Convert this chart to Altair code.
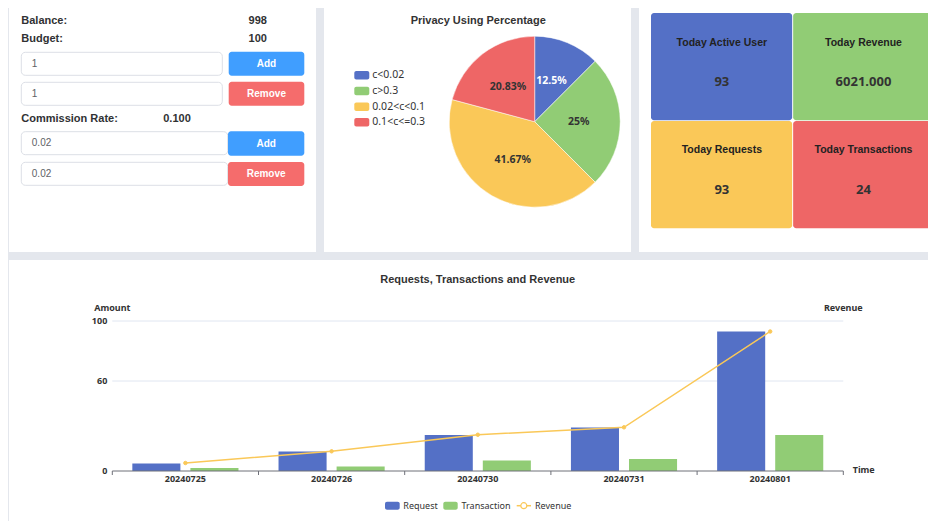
import altair as alt
import pandas as pd

# ---------------- data ----------------
info_labels = ["Balance:", "Budget:", "Commission Rate:"]
info_values = ["998", "100", "0.100"]
input_values = ["1", "1", "0.02", "0.02"]
button_labels = ["Add", "Remove", "Add", "Remove"]

pie_title = "Privacy Using Percentage"
pie_categories = ["c<0.02", "c>0.3", "0.02<c<0.1", "0.1<c<=0.3"]
pie_counts = [3, 6, 10, 5]
pie_labels = ["12.5%", "25%", "41.67%", "20.83%"]

card_titles = ["Today Active User", "Today Revenue", "Today Requests", "Today Transactions"]
card_values = ["93", "6021.000", "93", "24"]

bar_title = "Requests, Transactions and Revenue"
dates = ["20240725", "20240726", "20240730", "20240731", "20240801"]
requests = [5, 13, 24, 29, 93]
transactions = [2, 3, 7, 8, 24]
revenue = [345, 850, 1565, 1885, 6021]
amount_ticks = [0, 60, 100]
series_names = ["Request", "Transaction", "Revenue"]
axis_titles = ["Amount", "Revenue", "Time"]

# ---------------- styles ----------------
BLUE, GREEN, YELLOW, RED = "#5470c6", "#91cc75", "#fac858", "#ee6666"
BTN_BLUE, BTN_RED = "#409eff", "#f56c6c"
BG = "#e4e7ed"
AXIS = "#6e7079"
GRID = "#e0e6f1"
FONT_UI = "Liberation Sans"
FONT_CH = "Noto Sans"
W, H = 920, 513


def one(**cols):
    return pd.DataFrame({k: [v] for k, v in cols.items()})


def box(x1, x2, y1, y2, fill, stroke=None, radius=0):
    kw = dict(fill=fill, cornerRadius=radius)
    if stroke is not None:
        kw.update(stroke=stroke, strokeWidth=1)
    else:
        kw.update(strokeWidth=0)
    return alt.Chart(one(k=0)).mark_rect(**kw).encode(
        x=alt.value(x1), x2=alt.value(x2), y=alt.value(y1), y2=alt.value(y2))


def txt(t, x, y, size, weight="normal", color="#303133", align="left", font=FONT_UI):
    return alt.Chart(one(t=t)).mark_text(
        fontSize=size, fontWeight=weight, color=color, align=align,
        baseline="middle", font=font).encode(
        text="t:N", x=alt.value(x), y=alt.value(y))


layers = []

# panels
layers += [
    box(1, 308, 0, 244, "white"),
    box(316, 623, 0, 244, "white"),
    box(631, W, 0, 244, "white"),
    box(1, W, 252, H, "white"),
]

# ---------------- panel 1: form ----------------
info_pos = [(12.7, 249.7), (31.3, 249.7), (111.0, 169.0)]
for i, (y, vx) in enumerate(info_pos):
    layers.append(txt(info_labels[i], 13.3, y, 11, "bold"))
    layers.append(txt(info_values[i], vx, y, 11, "bold", align="center"))

inputs_geom = [(13.3, 214.3, 44.3, 67.3), (13.3, 214.3, 74.3, 97.3),
               (13.3, 219.7, 123.7, 146.7), (13.3, 219.7, 154.3, 177.3)]
button_geom = [(220.7, 296.3, 43.7, 67.7), (220.7, 296.3, 73.7, 97.7),
               (220.0, 296.3, 123.3, 147.7), (220.0, 296.3, 154.0, 178.0)]
button_fill = [BTN_BLUE, BTN_RED, BTN_BLUE, BTN_RED]
for i in range(4):
    x1, x2, y1, y2 = inputs_geom[i]
    layers.append(box(x1, x2, y1, y2, "white", stroke="#dcdfe6", radius=4))
    layers.append(txt(input_values[i], x1 + 10.5, (y1 + y2) / 2, 10, color="#606266"))
    bx1, bx2, by1, by2 = button_geom[i]
    layers.append(box(bx1, bx2, by1, by2, button_fill[i], radius=3))
    layers.append(txt(button_labels[i], (bx1 + bx2) / 2, (by1 + by2) / 2, 10, "bold",
                      color="white", align="center"))

# ---------------- panel 2: pie ----------------
layers.append(txt(pie_title, 470.2, 12.7, 11, "bold", color="#333333", align="center"))
pie_df = pd.DataFrame({"cat": pie_categories, "count": pie_counts,
                       "label": pie_labels, "idx": list(range(len(pie_counts)))})
pie_color = alt.Scale(domain=pie_categories, range=[BLUE, GREEN, YELLOW, RED])
cx, cy = 526.7, 113.7
layers.append(alt.Chart(pie_df).mark_arc(radius=85.5, stroke="white", strokeWidth=0.5).encode(
    theta=alt.Theta("count:Q", stack=True),
    order=alt.Order("idx:Q"),
    color=alt.Color("cat:N", scale=pie_color, legend=None),
    x=alt.value(cx), y=alt.value(cy)))
layers.append(alt.Chart(pie_df).mark_text(radius=44, fontSize=10.5, fontWeight="bold",
                                          font=FONT_CH, baseline="middle").encode(
    theta=alt.Theta("count:Q", stack=True),
    order=alt.Order("idx:Q"),
    text="label:N",
    color=alt.Color("cat:N", scale=alt.Scale(domain=pie_categories,
                                             range=["#ffffff", "#333333", "#333333", "#333333"]),
                    legend=None),
    x=alt.value(cx), y=alt.value(cy)))
step = 15.67
leg_y = alt.Scale(domain=pie_categories, range=[67.3 - step / 2, 114.3 + step / 2],
                  paddingInner=1 - 8.5 / step, paddingOuter=(1 - 8.5 / step) / 2)
layers.append(alt.Chart(pie_df).mark_rect(cornerRadius=2).encode(
    x=alt.value(346.3), x2=alt.value(361.3),
    y=alt.Y("cat:N", scale=leg_y, axis=None),
    color=alt.Color("cat:N", scale=pie_color, legend=None)))
layers.append(alt.Chart(pie_df).mark_text(align="left", baseline="middle", fontSize=10.5,
                                          font=FONT_CH, color="#333333").encode(
    x=alt.value(364.3),
    y=alt.Y("cat:N", scale=leg_y, axis=None),
    text="cat:N"))

# ---------------- panel 3: KPI cards ----------------
card_df = pd.DataFrame({"title": card_titles, "value": card_values,
                        "col": [0, 1, 0, 1], "row": [0, 0, 1, 1]})
cxs = alt.Scale(domain=[0, 1], range=[643, 926.3], paddingInner=0.007, paddingOuter=0)
cys = alt.Scale(domain=[0, 1], range=[5, 220.3], paddingInner=0.007, paddingOuter=0)
layers.append(alt.Chart(card_df).mark_rect(cornerRadius=3).encode(
    x=alt.X("col:O", scale=cxs, axis=None),
    y=alt.Y("row:O", scale=cys, axis=None),
    color=alt.Color("title:N", scale=alt.Scale(domain=card_titles, range=[BLUE, GREEN, YELLOW, RED]),
                    legend=None)))
layers.append(alt.Chart(card_df).mark_text(dy=-24.3, fontSize=10.5, fontWeight="bold",
                                           font=FONT_UI, color="#222222", baseline="middle").encode(
    x=alt.X("col:O", scale=cxs, axis=None),
    y=alt.Y("row:O", scale=cys, axis=None),
    text="title:N"))
layers.append(alt.Chart(card_df).mark_text(dy=15.5, fontSize=13, fontWeight="bold",
                                           font=FONT_CH, color="#333333", baseline="middle").encode(
    x=alt.X("col:O", scale=cxs, axis=None),
    y=alt.Y("row:O", scale=cys, axis=None),
    text="value:N"))

# ---------------- panel 4: bars + line ----------------
X0, X1, Y0, Y100 = 104.3, 835.3, 463.0, 313.0
xb = alt.Scale(domain=dates, range=[X0, X1], paddingInner=0, paddingOuter=0)
yb = alt.Scale(domain=[0, 100], range=[Y0, Y100], nice=False, zero=True)
yr = alt.Scale(domain=[0, 6474], range=[Y0, Y100], nice=False, zero=True)

layers.append(txt(bar_title, 469.7, 271.5, 11, "bold", color="#333333", align="center"))

grid_df = pd.DataFrame({"v": amount_ticks[1:]})
layers.append(alt.Chart(grid_df).mark_rule(color=GRID, strokeWidth=1).encode(
    y=alt.Y("v:Q", scale=yb, axis=None), x=alt.value(X0), x2=alt.value(X1)))

bars_df = pd.DataFrame({
    "date": dates * 2,
    "series": [series_names[0]] * len(dates) + [series_names[1]] * len(dates),
    "value": requests + transactions,
})
layers.append(alt.Chart(bars_df).mark_bar().encode(
    x=alt.X("date:N", scale=xb, axis=None),
    xOffset=alt.XOffset("series:N", scale=alt.Scale(domain=series_names[:2],
                                                    paddingInner=0.1724, paddingOuter=0.345)),
    y=alt.Y("value:Q", scale=yb, axis=None),
    color=alt.Color("series:N", scale=alt.Scale(domain=series_names[:2], range=[BLUE, GREEN]),
                    legend=None)))

# axis line + ticks
layers.append(alt.Chart(pd.DataFrame({"v": [amount_ticks[0]]})).mark_rule(color=AXIS, strokeWidth=1).encode(
    y=alt.Y("v:Q", scale=yb, axis=None), x=alt.value(X0), x2=alt.value(X1)))
tick_df = pd.DataFrame({"date": dates})
layers.append(alt.Chart(tick_df).mark_rule(color=AXIS).encode(
    x=alt.X("date:N", scale=xb, axis=None, bandPosition=0),
    y=alt.value(Y0), y2=alt.value(Y0 + 4)))
layers.append(alt.Chart(one(date=dates[-1])).mark_rule(color=AXIS).encode(
    x=alt.X("date:N", scale=xb, axis=None, bandPosition=1),
    y=alt.value(Y0), y2=alt.value(Y0 + 4)))

rev_df = pd.DataFrame({"date": dates, "rev": revenue})
layers.append(alt.Chart(rev_df).mark_line(color=YELLOW, strokeWidth=1.5).encode(
    x=alt.X("date:N", scale=xb, axis=None),
    y=alt.Y("rev:Q", scale=yr, axis=None)))
layers.append(alt.Chart(rev_df).mark_point(shape="circle", size=12, filled=True, fill=YELLOW,
                                           stroke=YELLOW, strokeWidth=1, opacity=1).encode(
    x=alt.X("date:N", scale=xb, axis=None),
    y=alt.Y("rev:Q", scale=yr, axis=None)))

# tick labels
layers.append(alt.Chart(tick_df).mark_text(fontSize=9, fontWeight="bold", font=FONT_CH,
                                           color="#333333", baseline="middle").encode(
    x=alt.X("date:N", scale=xb, axis=None),
    y=alt.value(471.3), text="date:N"))
layers.append(alt.Chart(pd.DataFrame({"v": amount_ticks})).mark_text(
    fontSize=9, fontWeight="bold", font=FONT_CH, color="#333333", align="right",
    baseline="middle").encode(
    y=alt.Y("v:Q", scale=yb, axis=None), x=alt.value(99.3), text="v:Q"))

# axis titles
layers.append(txt(axis_titles[0], 104.3, 299.7, 9, "bold", color="#333333", align="center", font=FONT_CH))
layers.append(txt(axis_titles[1], 835.3, 299.7, 9, "bold", color="#333333", align="center", font=FONT_CH))
layers.append(txt(axis_titles[2], 844.7, 462.3, 9, "bold", color="#333333", align="left", font=FONT_CH))

# legend
LY = 497.7
layers.append(box(377.0, 391.7, LY - 4, LY + 4, BLUE, radius=2))
layers.append(txt(series_names[0], 395.3, LY, 9, color="#333333", font=FONT_CH))
layers.append(box(435.3, 449.7, LY - 4, LY + 4, GREEN, radius=2))
layers.append(txt(series_names[1], 453.5, LY, 9, color="#333333", font=FONT_CH))
layers.append(alt.Chart(one(k=0)).mark_rule(color=YELLOW, strokeWidth=1.5).encode(
    x=alt.value(508.7), x2=alt.value(523.0), y=alt.value(LY)))
layers.append(alt.Chart(one(k=0)).mark_point(shape="circle", size=36, filled=True, fill="white",
                                             stroke=YELLOW, strokeWidth=1.2, opacity=1).encode(
    x=alt.value(515.8), y=alt.value(LY)))
layers.append(txt(series_names[2], 527.0, LY, 9, color="#333333", font=FONT_CH))

chart = alt.layer(*layers).resolve_scale(
    x="independent", y="independent", color="independent", theta="independent",
    xOffset="independent"
).properties(
    width=W, height=H, padding=0, background=BG,
    autosize=alt.AutoSizeParams(type="none")
).configure_view(stroke=None)

chart.save("out.html", embed_options={"renderer": "svg", "actions": False})
